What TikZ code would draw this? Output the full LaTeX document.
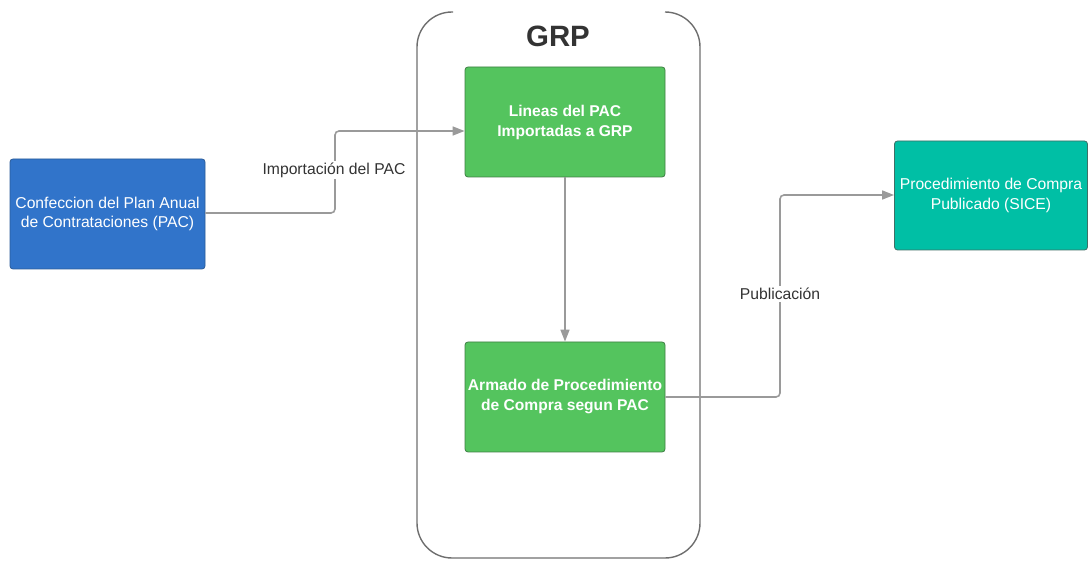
\documentclass[tikz,border=0pt]{standalone}
\usepackage{fontspec}
\setmainfont{Liberation Sans}
\usetikzlibrary{arrows.meta}
\definecolor{bluebox}{HTML}{3174CA}
\definecolor{blueedge}{HTML}{2B5C98}
\definecolor{greenbox}{HTML}{54C45E}
\definecolor{greenedge}{HTML}{3E7E44}
\definecolor{tealbox}{HTML}{00BFA5}
\definecolor{tealedge}{HTML}{3F6F66}
\definecolor{conn}{HTML}{9A9A9A}
\definecolor{frame}{HTML}{6E6E6E}
\definecolor{txt}{HTML}{333333}
\tikzset{
  box/.style={rectangle, rounded corners=3pt, minimum width=195pt, minimum height=110pt,
    inner sep=0pt, align=center, text=white, font=\fontsize{15.7}{19.5}\selectfont, line width=0.8pt},
  gbox/.style={box, fill=greenbox, draw=greenedge, minimum width=200pt, font=\fontsize{15.6}{20}\selectfont\bfseries},
  conn/.style={draw=conn, line width=1.6pt, rounded corners=4pt, -{Triangle[length=12pt,width=9pt]}},
  lbl/.style={fill=white, text=txt, font=\fontsize{15.7}{18}\selectfont, inner sep=2pt}
}
\begin{document}
\begin{tikzpicture}[x=1pt,y=-1pt]
\useasboundingbox (0,0) rectangle (1088,561);
% GRP container
\draw[frame, line width=1.4pt, rounded corners=35pt] (453,12) -- (417,12) -- (417,558) -- (700,558) -- (700,12) -- (665,12);
\node[font=\fontsize{29.4}{31}\selectfont\bfseries, text=txt] (grp) at (558,36) {GRP};
% boxes
\node[box, fill=bluebox, draw=blueedge] (pac) at (107.5,214) {Confeccion del Plan Anual\\de Contrataciones (PAC)};
\node[gbox] (lin) at (565,122) {Lineas del PAC\\Importadas a GRP};
\node[gbox] (arm) at (565,397) {Armado de Procedimiento\\de Compra segun PAC};
\node[box, fill=tealbox, draw=tealedge, minimum width=193pt, minimum height=109pt] (pub) at (991,195.5) {Procedimiento de Compra\\Publicado (SICE)};
% connectors
\coordinate (c1a) at (335,213);
\coordinate (c1b) at (335,131);
\draw[conn] (pac.east |- c1a) -- (c1a) -- (c1b) -- (lin.west |- c1b);
\node[lbl] (l1) at (334,170) {Importación del PAC};
\draw[conn] (lin.south) -- (arm.north);
\coordinate (c3a) at (780,397);
\coordinate (c3b) at (780,195);
\draw[conn] (arm.east |- c3a) -- (c3a) -- (c3b) -- (pub.west |- c3b);
\node[lbl] (l2) at (780,294) {Publicación};
\end{tikzpicture}
\end{document}
